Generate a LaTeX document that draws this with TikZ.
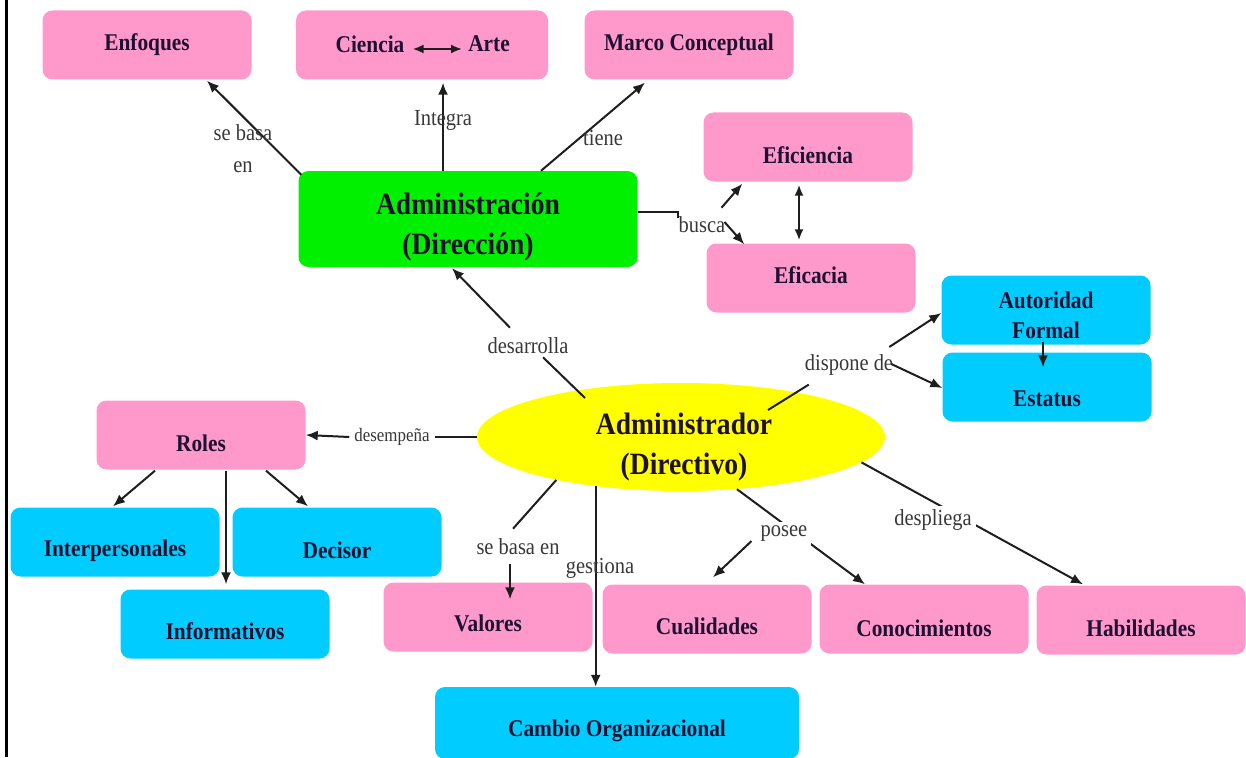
\documentclass[tikz,border=0pt]{standalone}
\usepackage{fontspec}
\setmainfont{Liberation Serif}[FakeStretch=0.89]
\usetikzlibrary{arrows.meta,shapes.geometric,calc}
\definecolor{pinkbox}{HTML}{FF99CC}
\definecolor{cyanbox}{HTML}{00CCFF}
\definecolor{greenbox}{HTML}{00F000}
\definecolor{yellowbox}{HTML}{FFFF00}
\definecolor{ink}{HTML}{1E1030}
\definecolor{linkgray}{HTML}{383838}
\definecolor{wirecol}{HTML}{1E1E1E}

\begin{document}
\begin{tikzpicture}[x=1pt,y=-1pt,
  box/.style={rounded corners=10pt, minimum width=209pt, minimum height=69pt,
    inner sep=0pt, text=ink, font=\fontsize{24}{30}\selectfont\bfseries, align=center},
  pinkb/.style={box, fill=pinkbox},
  cyanb/.style={box, fill=cyanbox},
  % vertical placement of a one-line caption inside its box
  th/.style={text height=#1, text depth=0pt},
  bigtext/.style={text=ink, font=\fontsize{31}{40}\selectfont\bfseries, align=center, inner sep=0pt},
  boxword/.style={text=ink, font=\fontsize{24}{30}\selectfont\bfseries, inner sep=0pt, align=center},
  lbl/.style={text=linkgray, font=\fontsize{23}{32}\selectfont, inner sep=1pt, align=center},
  lblw/.style={lbl, fill=white, inner sep=4pt},
  wire/.style={draw=wirecol, line width=2pt},
  arr/.style={wire, -{Latex[length=12pt,width=10pt]}},
  biarr/.style={wire, {Latex[length=11pt,width=9pt]}-{Latex[length=11pt,width=9pt]}},
]
\useasboundingbox (0,0) rectangle (1246,757);
\fill[white] (0,0) rectangle (1246,757);
% frame rule on the left side
\draw[line width=3pt, black] (6.5,0) -- (6.5,757);

% ---------- concept boxes ----------
\node[pinkb, th=12pt] (enf) at (147,45) {Enfoques};
\node[pinkb, minimum width=252pt] (cia) at (422,45) {};
\node[boxword] (cien) at (370,44) {Ciencia};
\node[boxword] (arte) at (489,44) {Arte};
\node[pinkb, th=12pt] (mc) at (689,45) {Marco Conceptual};
\node[box, fill=greenbox, minimum width=339pt, minimum height=96pt] (adm) at (468,219) {};
\node[bigtext] (admtxt) at (468,227.5) {Administración\\(Dirección)};
\node[pinkb, th=32pt] (efi) at (808,147) {Eficiencia};
\node[pinkb, th=10pt] (efc) at (811,278) {Eficacia};
\node[cyanb] (aut) at (1046,310) {};
\node[boxword] (auttxt) at (1046,315) {Autoridad\\Formal};
\node[cyanb, th=38pt] (est) at (1047,387) {Estatus};
\node[ellipse, fill=yellowbox, minimum width=408pt, minimum height=108pt, inner sep=0pt] (ador) at (681,437) {};
\node[bigtext] (adortxt) at (684,447) {Administrador\\(Directivo)};
\node[pinkb, th=32pt] (roles) at (201,435) {Roles};
\node[cyanb, th=28pt] (inter) at (115,542) {Interpersonales};
\node[cyanb, th=32pt] (dec) at (337,542) {Decisor};
\node[cyanb, th=30pt] (info) at (225,624) {Informativos};
\node[pinkb, th=28pt] (val) at (488,617) {Valores};
\node[pinkb, th=30pt] (cua) at (707,619) {Cualidades};
\node[pinkb, th=34pt] (con) at (924,619) {Conocimientos};
\node[pinkb, th=32pt] (hab) at (1141,620) {Habilidades};
\node[cyanb, minimum width=364pt, minimum height=72pt, th=26pt] (cam) at (617,723) {Cambio Organizacional};

% ---------- straight links that run through their labels ----------
\draw[biarr] ($(cien.east)+(8,5)$) -- ($(arte.west)+(-6,5)$);
\draw[arr] ($(adm.north west)+(3,4)$) -- ($(enf.south)+(60,1)$);
\draw[arr] ($(adm.north)+(-25,0)$) -- ($(cia.south)+(21,3)$);
\draw[arr] ($(adm.north)+(73,0)$) -- ($(mc.south)+(-44,3)$);
\draw[arr] (ador.210.6) -- (ador.210.6 |- cam.north);
\draw[arr] (ador.-43.4) -- ($(con.north)+(-59,0)$);
\draw[arr] (ador.-8.4) -- ($(hab.north)+(-58,-1)$);

% ---------- link labels ----------
\node[lbl] (lenf) at (243,149) {se basa\\en};
\node[lbl] (lint) at (443,120) {Integra};
\node[lbl] (ltie) at (603,138) {tiene};
\node[lbl] (lbus) at (702,225) {busca};
\node[lbl] (ldis) at (849,365) {dispone de};
\node[lbl] (ldes) at (528,346) {desarrolla};
\node[lbl, font=\fontsize{19}{22}\selectfont, inner xsep=5pt] (ldem) at (392,437) {desempeña};
\node[lbl] (lval) at (518,547) {se basa en};
\node[lbl] (lges) at (600,568) {gestiona};
\node[lblw] (lpos) at (784,534) {posee};
\node[lblw] (ldpl) at (933,520) {despliega};

% ---------- links attached to labels ----------
\draw[wire] ($(adm.east)+(0,-7)$) -- ++(40,0) -- ++(0,6);
\draw[arr] ($(lbus.north east)+(-5,-8)$) -- ($(efi.south west)+(39,2)$);
\draw[arr] ($(lbus.east)+(-2,-3)$) -- ($(efc.north west)+(38,1)$);
\draw[biarr] ($(efi.south)+(-9,3)$) -- ($(efc.north)+(-12,-3)$);
\draw[arr] ($(aut.south)+(-3,-3)$) -- ($(est.north)+(-4,15)$);

\draw[wire] ($(ador.center)+(87,-27)$) -- ($(ldis.south west)+(5,8)$);
\draw[arr] ($(ldis.east)+(-5,-18)$) -- ($(aut.west)+(0,3)$);
\draw[arr] ($(ldis.east)+(-3,-1)$) -- ($(est.west)+(0,1)$);

\draw[wire] ($(ador.center)+(-96,-39)$) -- ($(ldes.south)+(15,2)$);
\draw[arr] ($(ldes.north)+(-18,-9)$) -- ($(adm.south)+(-16,1)$);

\draw[wire] (ador.west) -- (ldem.east);
\draw[arr] (ldem.west) -- (roles.east);

\draw[arr] ($(roles.south)+(-46,1)$) -- ($(inter.north)+(-2,-1)$);
\draw[arr] ($(roles.south)+(25,1)$) -- ($(info.north)+(1,-5)$);
\draw[arr] ($(roles.south)+(65,1)$) -- ($(dec.north)+(-29,-1)$);

\draw[wire] (ador.199) -- ($(lval.north)+(-5,-9)$);
\draw[arr] ($(lval.south)+(-8,8)$) -- ($(val.north)+(22,17)$);

\draw[arr] ($(lpos.south west)+(-5,-5)$) -- ($(cua.north)+(6,-7)$);
\end{tikzpicture}
\end{document}
